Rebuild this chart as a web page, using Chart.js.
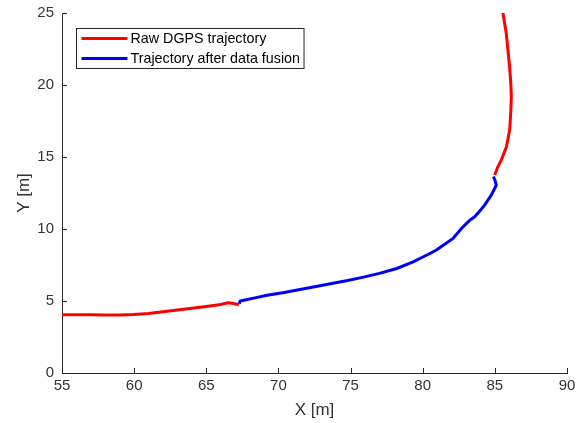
<!DOCTYPE html>
<html>
<head>
<meta charset="utf-8">
<title>Trajectory</title>
<script src="https://cdn.jsdelivr.net/npm/chart.js@4/dist/chart.umd.min.js"></script>
<style>
  html, body { margin: 0; padding: 0; background: #ffffff; }
  #wrap { width: 580px; height: 423px; }
</style>
</head>
<body>
<div id="wrap"><canvas id="c" width="580" height="423"></canvas></div>
<script>
// Raw DGPS positions before the fused section (X, Y in metres)
const rawStartX = [55.0, 56.0, 57.0, 58.0, 59.0, 60.0, 61.0, 62.0, 63.0, 64.0, 65.0, 66.0, 66.5, 66.8, 67.26];
const rawStartY = [4.05, 4.05, 4.05, 4.03, 4.02, 4.06, 4.13, 4.25, 4.38, 4.50, 4.62, 4.76, 4.87, 4.84, 4.74];

// Raw DGPS positions after the fused section
const rawEndX = [84.99, 85.2, 85.45, 85.8, 86.03, 86.11, 86.14, 86.1, 86.02, 85.9, 85.79, 85.56];
const rawEndY = [13.75, 14.3, 14.8, 15.7, 16.9, 18.26, 19.2, 20.2, 21.27, 22.5, 23.6, 25.0];

// Trajectory after data fusion
const fusedX = [67.28, 67.35, 67.6, 68.3, 69.2, 70.3, 71.5, 72.6, 73.6, 74.8, 75.9, 77.0, 78.2, 79.3, 79.8, 80.5, 80.95, 81.6, 82.1, 82.7, 83.25, 83.6, 84.0, 84.3, 84.75, 85.1, 85.0, 84.9];
const fusedY = [4.82, 5.0, 5.05, 5.2, 5.40, 5.58, 5.80, 6.0, 6.2, 6.42, 6.66, 6.92, 7.26, 7.70, 7.95, 8.30, 8.54, 9.0, 9.35, 10.05, 10.6, 10.85, 11.3, 11.67, 12.35, 13.05, 13.4, 13.65];

// Axis ticks
const xTicks = [55, 60, 65, 70, 75, 80, 85, 90];
const yTicks = [0, 5, 10, 15, 20, 25];

const seriesNames = ['Raw DGPS trajectory', 'Trajectory after data fusion'];
const seriesColors = ['#ff0000', '#0000ff'];

const AXIS_COLOR = '#262626';
const TEXT_COLOR = '#333333';
const FONT = "'Liberation Sans', Arial, Helvetica, sans-serif";

function toPoints(xs, ys) {
  return xs.map((x, i) => ({ x: x, y: ys[i] }));
}

// raw track: two pieces separated by a gap point so the line breaks
const rawPoints = toPoints(rawStartX, rawStartY)
  .concat([{ x: null, y: null }])
  .concat(toPoints(rawEndX, rawEndY));
const fusedPoints = toPoints(fusedX, fusedY);

// fixed axes box: tick-label overhang must not shrink the plot area
function noOverhang(scale) {
  scale.paddingTop = 0;
  scale.paddingBottom = 0;
  scale.paddingLeft = 0;
  scale.paddingRight = 0;
}

// MATLAB-style inward tick marks
const innerTicks = {
  id: 'innerTicks',
  afterDatasetsDraw(chart) {
    const { ctx, chartArea, scales } = chart;
    const len = 5;
    ctx.save();
    ctx.strokeStyle = AXIS_COLOR;
    ctx.lineWidth = 1;
    ctx.beginPath();
    xTicks.forEach(v => {
      const px = Math.round(scales.x.getPixelForValue(v)) + 0.5;
      ctx.moveTo(px, chartArea.bottom);
      ctx.lineTo(px, chartArea.bottom - len);
    });
    yTicks.forEach(v => {
      const py = Math.round(scales.y.getPixelForValue(v)) + 0.5;
      ctx.moveTo(chartArea.left, py);
      ctx.lineTo(chartArea.left + len, py);
    });
    ctx.stroke();
    ctx.restore();
  }
};

// Boxed legend inside the upper-left corner of the axes
const boxLegend = {
  id: 'boxLegend',
  afterDraw(chart) {
    const { ctx, chartArea } = chart;
    ctx.save();
    ctx.font = '14.3px ' + FONT;
    const textW = Math.max(...seriesNames.map(s => ctx.measureText(s).width));
    const bx = chartArea.left + 14.5;
    const by = chartArea.top + 15.5;
    const lineStart = 5, lineLen = 46, textGap = 3;
    const bw = lineStart + lineLen + textGap + textW + 4;
    const rowH = 20;
    const bh = rowH * seriesNames.length;
    ctx.fillStyle = '#ffffff';
    ctx.fillRect(bx, by, bw, bh);
    ctx.strokeStyle = AXIS_COLOR;
    ctx.lineWidth = 1;
    ctx.strokeRect(bx, by, bw, bh);
    seriesNames.forEach((name, i) => {
      const cy = by + rowH * i + rowH / 2;
      ctx.strokeStyle = seriesColors[i];
      ctx.lineWidth = 3;
      ctx.beginPath();
      ctx.moveTo(bx + lineStart, cy);
      ctx.lineTo(bx + lineStart + lineLen, cy);
      ctx.stroke();
      ctx.fillStyle = '#000000';
      ctx.textBaseline = 'middle';
      ctx.textAlign = 'left';
      ctx.fillText(name, bx + lineStart + lineLen + textGap, cy + 0.5);
    });
    ctx.restore();
  }
};

new Chart(document.getElementById('c'), {
  type: 'scatter',
  data: {
    datasets: [
      {
        label: seriesNames[0],
        data: rawPoints,
        showLine: true,
        spanGaps: false,
        borderColor: seriesColors[0],
        backgroundColor: seriesColors[0],
        borderWidth: 3,
        pointRadius: 0,
        tension: 0,
        order: 1
      },
      {
        label: seriesNames[1],
        data: fusedPoints,
        showLine: true,
        borderColor: seriesColors[1],
        backgroundColor: seriesColors[1],
        borderWidth: 3,
        pointRadius: 0,
        tension: 0,
        order: 0
      }
    ]
  },
  options: {
    responsive: false,
    animation: false,
    devicePixelRatio: 1,
    layout: { padding: { top: 13, right: 13, left: 0, bottom: 0 } },
    plugins: {
      legend: { display: false },
      tooltip: { enabled: false }
    },
    scales: {
      x: {
        type: 'linear',
        min: 55,
        max: 90,
        afterFit(scale) { scale.height = 50; noOverhang(scale); },
        afterBuildTicks(scale) { scale.ticks = xTicks.map(v => ({ value: v })); },
        grid: { display: false, drawTicks: false },
        border: { display: true, color: AXIS_COLOR, width: 1 },
        ticks: {
          padding: 4,
          color: TEXT_COLOR,
          font: { family: FONT, size: 15 },
          maxRotation: 0
        },
        title: {
          display: true,
          text: 'X [m]',
          color: TEXT_COLOR,
          font: { family: FONT, size: 17 },
          padding: { top: 0, bottom: 2 }
        }
      },
      y: {
        type: 'linear',
        min: 0,
        max: 25,
        afterFit(scale) { scale.width = 62; noOverhang(scale); },
        afterBuildTicks(scale) { scale.ticks = yTicks.map(v => ({ value: v })); },
        grid: { display: false, drawTicks: false },
        border: { display: true, color: AXIS_COLOR, width: 1 },
        ticks: {
          padding: 8,
          color: TEXT_COLOR,
          font: { family: FONT, size: 15 }
        },
        title: {
          display: true,
          text: 'Y [m]',
          color: TEXT_COLOR,
          font: { family: FONT, size: 17 },
          padding: { top: 14, bottom: 0 }
        }
      }
    }
  },
  plugins: [innerTicks, boxLegend]
});
</script>
</body>
</html>
